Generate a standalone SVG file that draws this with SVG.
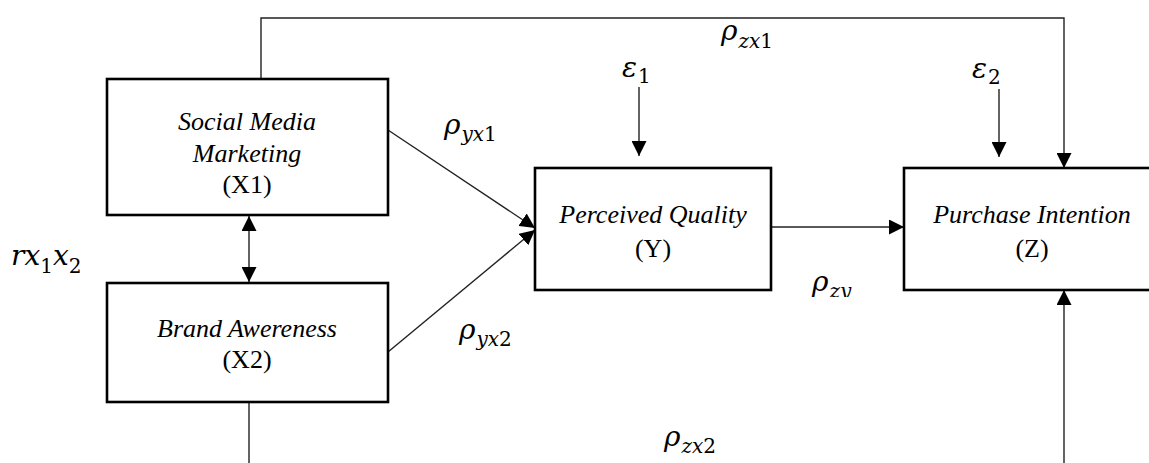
<svg xmlns="http://www.w3.org/2000/svg" width="1149" height="463" viewBox="0 0 1149 463">
<style>
.box{fill:#fff;stroke:#000;stroke-width:2.6}
.lbl{font-family:"Liberation Serif",serif;font-size:26px;font-style:italic;text-anchor:middle;fill:#000}
.up{font-style:normal}
.con{fill:none;stroke:#222;stroke-width:1.4}
.math{font-family:"DejaVu Serif",serif;font-size:28px;font-style:italic;fill:#000}
.sub{font-size:20px}
.dg{font-style:normal}
</style>
<defs>
<marker id="ah" markerUnits="userSpaceOnUse" markerWidth="16" markerHeight="15" refX="15" refY="7.5" orient="auto-start-reverse">
<path d="M0,0 L15,7.5 L0,15 Z" fill="#000"/>
</marker>
<clipPath id="cutzy"><rect x="800" y="260" width="80" height="37"/></clipPath>
</defs>
<g id="connectors">
<polyline class="con" points="261,79 261,18 1064,18 1064,168" marker-end="url(#ah)"/>
<line class="con" x1="249" y1="216" x2="249" y2="282" marker-start="url(#ah)" marker-end="url(#ah)"/>
<line class="con" x1="388" y1="130" x2="535" y2="228" marker-end="url(#ah)"/>
<line class="con" x1="388" y1="352" x2="535" y2="230" marker-end="url(#ah)"/>
<line class="con" x1="771" y1="227" x2="904" y2="227" marker-end="url(#ah)"/>
<line class="con" x1="639" y1="87" x2="639" y2="156" marker-end="url(#ah)"/>
<line class="con" x1="999" y1="89" x2="999" y2="157" marker-end="url(#ah)"/>
<line class="con" x1="249" y1="402" x2="249" y2="463"/>
<line class="con" x1="1064" y1="463" x2="1064" y2="290" marker-end="url(#ah)"/>
</g>
<g id="X1">
<rect class="box" x="107" y="79" width="281" height="136"/>
<text class="lbl" x="247" y="130">Social Media</text>
<text class="lbl" x="247" y="162">Marketing</text>
<text class="lbl up" x="247" y="193">(X1)</text>
</g>
<g id="X2">
<rect class="box" x="107" y="283" width="281" height="119"/>
<text class="lbl" x="247" y="337">Brand Awereness</text>
<text class="lbl up" x="247" y="368">(X2)</text>
</g>
<g id="Y">
<rect class="box" x="535" y="168" width="236" height="122"/>
<text class="lbl" x="653" y="223">Perceived Quality</text>
<text class="lbl up" x="653" y="257">(Y)</text>
</g>
<g id="Z">
<rect class="box" x="904" y="168" width="260" height="122"/>
<text class="lbl" x="1032" y="223">Purchase Intention</text>
<text class="lbl up" x="1032" y="257">(Z)</text>
</g>
<g id="labels">
<text class="math" x="721" y="40">ρ<tspan class="sub" dx="1" dy="8">zx</tspan><tspan class="sub dg">1</tspan></text>
<text class="math" x="622" y="77">ε<tspan class="sub dg" dx="1" dy="6">1</tspan></text>
<text class="math" x="972" y="78">ε<tspan class="sub dg" dx="1" dy="6">2</tspan></text>
<text class="math" x="444" y="134">ρ<tspan class="sub" dx="1" dy="7">yx</tspan><tspan class="sub dg">1</tspan></text>
<text class="math" x="11" y="265">rx<tspan class="sub dg" dy="8">1</tspan><tspan dy="-8">x</tspan><tspan class="sub dg" dy="8">2</tspan></text>
<text class="math" x="459" y="339">ρ<tspan class="sub" dx="1" dy="7">yx</tspan><tspan class="sub dg">2</tspan></text>
<text class="math" x="812" y="291" clip-path="url(#cutzy)">ρ<tspan class="sub" dx="1" dy="7">zy</tspan></text>
<text class="math" x="664" y="446">ρ<tspan class="sub" dx="1" dy="7">zx</tspan><tspan class="sub dg">2</tspan></text>
</g>
</svg>
